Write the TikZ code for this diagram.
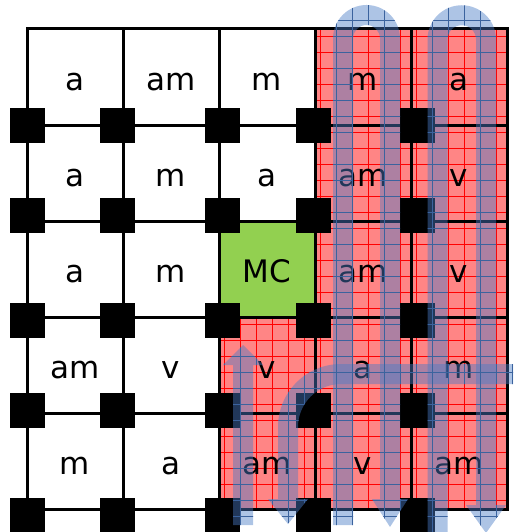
\documentclass[tikz,border=0pt]{standalone}
\usepackage{fontspec}
\setmainfont{DejaVu Sans}
\usetikzlibrary{patterns.meta}
\definecolor{mcgreen}{HTML}{92D050}
\definecolor{visitred}{HTML}{FF8585}
\definecolor{sweepblue}{HTML}{4A7CC6}
\tikzset{
  wall/.style={line width=3pt, line cap=rect},
  post/.style={fill=black, minimum size=35pt, inner sep=0pt},
  cell/.style={font=\fontsize{31}{36}\selectfont, inner sep=0pt, anchor=base},
  visited/.style={fill=visitred, postaction={pattern={Hatch[distance=16pt,line width=0.6pt]}, pattern color=red}},
  sweep/.style={fill=sweepblue, fill opacity=0.45, postaction={pattern={Hatch[distance=16pt,line width=0.6pt]}, pattern color=sweepblue!80!black}},
}

\begin{document}
\begin{tikzpicture}[x=1pt, y=-1pt]
  \useasboundingbox (0,0) rectangle (514,532);
  % covered cells and the start cell
  \fill[visited] (315,29) -- (507,29) -- (507,509) -- (219,509) -- (219,317) -- (315,317) -- cycle;
  \fill[mcgreen] (219,221) rectangle (315,317);
  \foreach \x in {27,123,219,315,411,507} \draw[wall] (\x,29) -- (\x,509);
  \foreach \y in {29,125,221,317,413,509} \draw[wall] (27,\y) -- (507,\y);
  \foreach \x [count=\i] in {27.5,117.5,222.5,313.5,417.5}
    \foreach \y [count=\j] in {125.5,215.5,320.5,410.5,515.5}
      \node[post] (post-\i-\j) at (\x,\y) {};
  \foreach \row [count=\r] in {{a,am,m,m,a},{a,m,a,am,v},{a,m,MC,am,v},{am,v,v,a,m},{m,a,am,v,am}}
    \foreach \lbl [count=\c] in \row
      \node[cell] (cell-\r-\c) at ({-21+96*\c}, {-5.5+96*\r}) {\lbl};
  % sweep paths
  \fill[sweep] (333,525) -- (333,38.5) arc[start angle=180,end angle=360,radius=33.5] -- (400,499) -- (408,499) -- (390,527) -- (372,499) -- (380,499) -- (380,38.5) arc[start angle=0,end angle=-180,radius=13.5] -- (353,525) -- cycle;
  \fill[sweep] (427.5,540) -- (427.5,39.5) arc[start angle=180,end angle=360,radius=34.25] -- (496,505) -- (506,505) -- (486,533) -- (466,505) -- (476,505) -- (476,39.5) arc[start angle=0,end angle=-180,radius=14.25] -- (447.5,540) -- cycle;
  \fill[sweep] (513,364) -- (341,364) arc[start angle=270,end angle=180,radius=63] -- (278,499) -- (268,499) -- (288,524) -- (308,499) -- (298,499) -- (298,427) arc[start angle=180,end angle=270,radius=43] -- (513,384) -- cycle;
  \fill[sweep] (233,525) -- (233,365) -- (223,365) -- (243,345) -- (263,365) -- (253,365) -- (253,525) -- cycle;
\end{tikzpicture}
\end{document}
